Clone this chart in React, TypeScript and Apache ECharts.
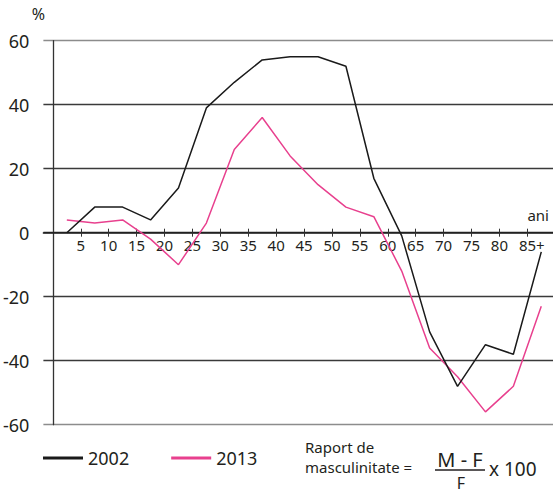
import React, { useEffect, useRef } from "react";
import * as echarts from "echarts";

const ages = [2.5, 7.5, 12.5, 17.5, 22.5, 27.5, 32.5, 37.5, 42.5, 47.5, 52.5, 57.5, 62.5, 67.5, 72.5, 77.5, 82.5, 87.5];
const ratio2002 = [0, 8, 8, 4, 14, 39, 47, 54, 55, 55, 52, 17, -1, -31, -48, -35, -38, -6];
const ratio2013 = [4, 3, 4, -2, -10, 3, 26, 36, 24, 15, 8, 5, -12, -36, -45, -56, -48, -23];
const xTickValues = [5, 10, 15, 20, 25, 30, 35, 40, 45, 50, 55, 60, 65, 70, 75, 80, 85];
const seriesNames = ["2002", "2013"];
const seriesColors = ["#1a1a1a", "#e8408e"];

const FONT = "Noto Sans";
const TXT = "#231f20";
const GRID_TOP = 40.7;
const GRID_BOTTOM = 69.3;
const CHART_H = 494;
const Y_MIN = -60;
const Y_MAX = 60;
// distance from grid bottom edge to the zero line
const GRID_H = CHART_H - GRID_TOP - GRID_BOTTOM;
const ZERO_SHIFT = (GRID_H * (0 - Y_MIN)) / (Y_MAX - Y_MIN);

export default function App() {
  const ref = useRef<HTMLDivElement>(null);
  useEffect(() => {
    if (!ref.current) return;
    const chart = echarts.init(ref.current, undefined, { renderer: "svg" });
    const option = {
      animation: false,
      backgroundColor: "#ffffff",
      textStyle: { fontFamily: FONT },
      grid: { left: 40, right: 0, top: GRID_TOP, bottom: GRID_BOTTOM, containLabel: false },
      legend: {
        data: seriesNames,
        icon: "rect",
        itemWidth: 40,
        itemHeight: 3,
        left: 43,
        top: 449,
        padding: 0,
        itemGap: 42,
        textStyle: { fontSize: 18, color: TXT, fontFamily: FONT },
      },
      xAxis: [
        {
          type: "value",
          min: -1.7,
          max: 89.6,
          position: "bottom",
          offset: -ZERO_SHIFT,
          axisLine: { show: true, onZero: false, lineStyle: { color: "#222", width: 1.5 } },
          axisTick: { show: true, length: 4, customValues: xTickValues, lineStyle: { color: "#333", width: 1 } },
          axisLabel: {
            customValues: xTickValues,
            fontSize: 15,
            color: TXT,
            fontFamily: FONT,
            margin: 5,
            formatter: (v: number) => (v === 85 ? "{g|}85+" : String(v)),
            rich: { g: { width: 9 } },
          },
          splitLine: { show: false },
        },
        {
          type: "value",
          min: -1.7,
          max: 89.6,
          position: "top",
          offset: -(GRID_H - ZERO_SHIFT),
          axisLine: { show: false, onZero: false },
          axisTick: { show: true, length: 4, customValues: xTickValues, lineStyle: { color: "#333", width: 1 } },
          axisLabel: { show: false },
          splitLine: { show: false },
        },
      ],
      yAxis: {
        type: "value",
        min: Y_MIN,
        max: Y_MAX,
        interval: 20,
        axisLine: { show: true, onZero: true, lineStyle: { color: "#333", width: 1.3 } },
        axisTick: { show: false },
        axisLabel: { fontSize: 18, color: TXT, fontFamily: FONT, margin: 14 },
        splitLine: {
          show: true,
          lineStyle: {
            color: ["#8c8c8c", "#3a3a3a", "#3a3a3a", "#222222", "#3a3a3a", "#3a3a3a", "#8c8c8c"],
            width: 1.4,
          },
        },
      },
      series: [
        {
          name: seriesNames[0],
          type: "line",
          xAxisIndex: 0,
          symbol: "none",
          data: ages.map((a, i) => [a, ratio2002[i]]),
          lineStyle: { color: seriesColors[0], width: 1.5 },
          itemStyle: { color: seriesColors[0] },
          z: 3,
        },
        {
          name: seriesNames[1],
          type: "line",
          xAxisIndex: 0,
          symbol: "none",
          data: ages.map((a, i) => [a, ratio2013[i]]),
          lineStyle: { color: seriesColors[1], width: 1.5 },
          itemStyle: { color: seriesColors[1] },
          z: 2,
        },
      ],
      graphic: [
        { type: "text", x: 38.5, y: 14, style: { text: "%", fontSize: 16, fill: TXT, fontFamily: FONT, align: "center", verticalAlign: "middle" } },
        { type: "text", x: 549, y: 215, style: { text: "ani", fontSize: 15, fill: TXT, fontFamily: FONT, align: "right", verticalAlign: "middle" } },
        { type: "text", x: 305, y: 447, style: { text: "Raport de", fontSize: 15, fill: TXT, fontFamily: FONT, align: "left", verticalAlign: "middle" } },
        { type: "text", x: 305, y: 467, style: { text: "masculinitate =", fontSize: 15, fill: TXT, fontFamily: FONT, align: "left", verticalAlign: "middle" } },
        { type: "text", x: 460, y: 459.7, style: { text: "M - F", fontSize: 20, fill: TXT, fontFamily: FONT, align: "center", verticalAlign: "middle" } },
        { type: "line", shape: { x1: 435, y1: 470, x2: 485, y2: 470 }, style: { stroke: TXT, lineWidth: 1.5 } },
        { type: "text", x: 461, y: 482.5, style: { text: "F", fontSize: 16, fill: TXT, fontFamily: FONT, align: "center", verticalAlign: "middle" } },
        { type: "text", x: 489, y: 469, style: { text: "x 100", fontSize: 19, fill: TXT, fontFamily: FONT, align: "left", verticalAlign: "middle" } },
      ],
    };
    chart.setOption(option as any);
    return () => chart.dispose();
  }, []);
  return (
    <div
      ref={ref}
      style={{ position: "fixed", left: 0, top: 0, width: 553, height: 494, background: "#fff" }}
    />
  );
}
